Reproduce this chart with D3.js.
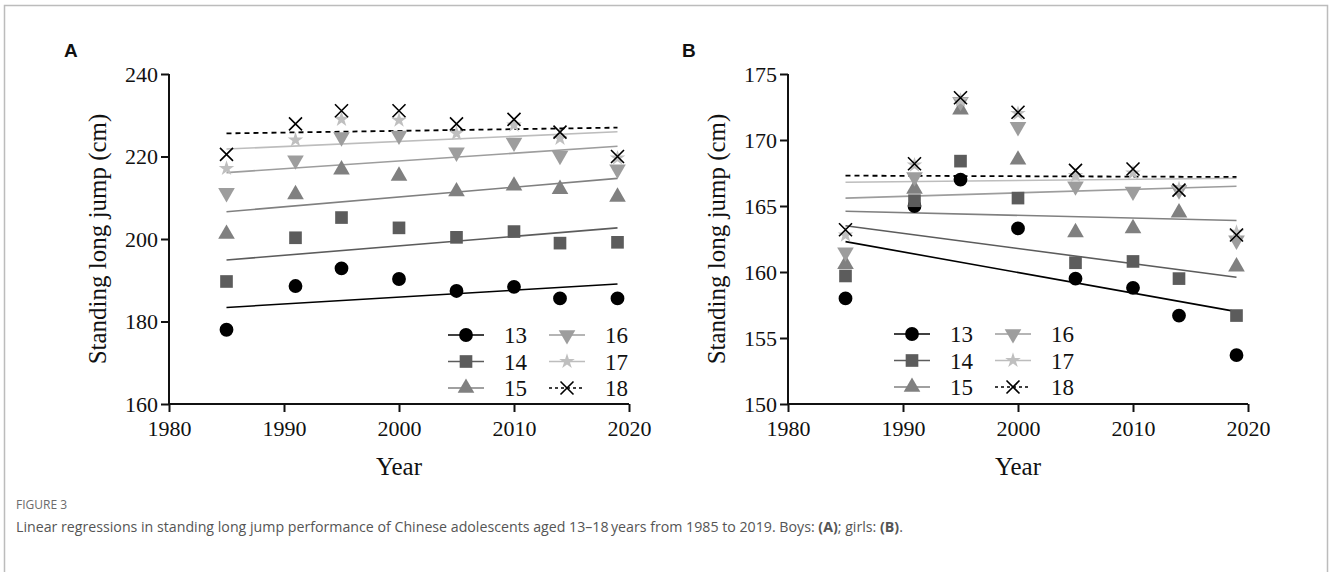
<!DOCTYPE html>
<html>
<head>
<meta charset="utf-8">
<script src="https://cdn.jsdelivr.net/npm/d3@7"></script>
<style>
  html, body { margin: 0; padding: 0; background: #fff; }
  svg { display: block; }
</style>
</head>
<body>
<svg id="fig" width="1330" height="572"></svg>
<script>
// Survey years
const years = [1985, 1991, 1995, 2000, 2005, 2010, 2014, 2019];
const ages = ["13", "14", "15", "16", "17", "18"];

// Boys, standing long jump (cm) by age
const boys13 = [178.0, 188.6, 192.9, 190.3, 187.4, 188.4, 185.6, 185.6];
const boys14 = [189.7, 200.3, 205.2, 202.7, 200.4, 201.8, 199.0, 199.2];
const boys15 = [201.2, 210.8, 216.8, 215.3, 211.5, 212.9, 212.1, 210.2];
const boys16 = [211.2, 219.1, 224.7, 225.1, 221.0, 223.4, 220.2, 216.9];
const boys17 = [217.1, 224.0, 229.0, 228.8, 225.6, 227.6, 224.4, 219.6];
const boys18 = [220.5, 227.9, 231.1, 231.1, 227.9, 229.0, 225.9, 220.0];

// Girls, standing long jump (cm) by age
const girls13 = [158.0, 165.0, 167.0, 163.3, 159.5, 158.8, 156.7, 153.7];
const girls14 = [159.7, 165.4, 168.4, 165.6, 160.7, 160.8, 159.5, 156.7];
const girls15 = [160.6, 166.3, 172.3, 168.5, 163.0, 163.3, 164.5, 160.4];
const girls16 = [161.5, 167.2, 172.9, 171.0, 166.5, 166.1, 166.2, 162.4];
const girls17 = [162.8, 168.1, 173.0, 172.0, 167.3, 167.5, 166.3, 163.0];
const girls18 = [163.2, 168.2, 173.2, 172.1, 167.7, 167.8, 166.2, 162.8];

// Fitted regression lines: value at first and last survey year
const fitYears = [1985, 2019];
const boysFitStart = [183.4, 194.9, 206.6, 216.1, 221.8, 225.6];
const boysFitEnd   = [189.1, 202.7, 214.7, 222.5, 226.0, 227.0];
const girlsFitStart = [162.3, 163.5, 164.6, 165.6, 166.8, 167.3];
const girlsFitEnd   = [157.0, 159.6, 163.9, 166.5, 167.1, 167.2];

// Axis ticks
const xTicks = [1980, 1990, 2000, 2010, 2020];
const boysTicks = [160, 180, 200, 220, 240];
const girlsTicks = [150, 155, 160, 165, 170, 175];

// Appearance per age group
const markerColor = ["#000000", "#5c5c5c", "#808080", "#9d9d9d", "#bfbfbf", "#000000"];
const lineColor   = ["#000000", "#5c5c5c", "#808080", "#9d9d9d", "#bdbdbd", "#000000"];
const markerType  = ["circle", "square", "triangle", "triangleDown", "star", "times"];

const svg = d3.select("#fig");

// Outer figure frame
svg.append("path")
  .attr("d", "M4.5,572 V5.5 H1327.5 V572")
  .attr("fill", "none")
  .attr("stroke", "#bcbcbc")
  .attr("stroke-width", 1.5);

function markerPath(type) {
  const sym = d3.symbol();
  switch (type) {
    case "circle": return sym.type(d3.symbolCircle).size(150)();
    case "square": return sym.type(d3.symbolSquare).size(160)();
    case "triangle":
    case "triangleDown": return sym.type(d3.symbolTriangle).size(120)();
    case "star": return sym.type(d3.symbolStar).size(75)();
    case "times": {
      const p = d3.path(), r = 6.5;
      p.moveTo(-r, -r); p.lineTo(r, r);
      p.moveTo(-r, r); p.lineTo(r, -r);
      return p.toString();
    }
  }
}

function drawMarker(g, type, color, x, y) {
  const el = g.append("path")
    .attr("d", markerPath(type))
    .attr("transform", `translate(${x},${y})` + (type === "triangleDown" ? " rotate(180)" : ""));
  if (type === "times") {
    el.attr("fill", "none").attr("stroke", color).attr("stroke-width", 1.6);
  } else {
    el.attr("fill", color);
  }
}

function panel(cfg) {
  const g = svg.append("g");
  const x = d3.scaleLinear().domain([1980, 2020]).range([cfg.x0, cfg.x0 + 460]);
  const y = d3.scaleLinear().domain(cfg.yDomain).range([404, 74]);

  // Axes
  const xAxis = g.append("g").attr("transform", "translate(0,404)")
    .call(d3.axisBottom(x).tickValues(xTicks).tickFormat(d3.format("d")).tickSize(8).tickPadding(8));
  const yAxis = g.append("g").attr("transform", `translate(${cfg.x0},0)`)
    .call(d3.axisLeft(y).tickValues(cfg.ticks).tickFormat(d3.format("d")).tickSize(8).tickPadding(3));
  [xAxis, yAxis].forEach(a => {
    a.select(".domain").attr("stroke", "#111").attr("stroke-width", 2);
    a.selectAll(".tick line").attr("stroke", "#111").attr("stroke-width", 2);
    a.selectAll(".tick text")
      .attr("fill", "#111")
      .style("font-family", "'Liberation Serif', 'Times New Roman', serif")
      .style("font-size", "22px");
  });
  xAxis.select(".domain").attr("d", `M${cfg.x0},0H${cfg.x0 + 460}`);
  yAxis.select(".domain").attr("d", `M0,404V74`);

  // Axis titles
  g.append("text")
    .attr("x", cfg.x0 + 230).attr("y", 475)
    .attr("text-anchor", "middle")
    .style("font-family", "'Liberation Serif', 'Times New Roman', serif")
    .style("font-size", "25px").attr("fill", "#111")
    .text("Year");
  g.append("text")
    .attr("transform", `translate(${cfg.x0 - 63},239) rotate(-90)`)
    .attr("text-anchor", "middle")
    .style("font-family", "'Liberation Serif', 'Times New Roman', serif")
    .style("font-size", "25px").attr("fill", "#111")
    .text("Standing long jump (cm)");

  // Panel letter
  g.append("text")
    .attr("x", cfg.letterX).attr("y", 57)
    .style("font-family", "'Liberation Sans', Arial, sans-serif")
    .style("font-weight", "bold")
    .style("font-size", "19px").attr("fill", "#111")
    .text(cfg.letter);

  // Regression lines
  const line = d3.line().x(d => x(d[0])).y(d => y(d[1]));
  cfg.series.forEach((s, i) => {
    g.append("path")
      .attr("d", line([[fitYears[0], cfg.fitStart[i]], [fitYears[1], cfg.fitEnd[i]]]))
      .attr("fill", "none")
      .attr("stroke", lineColor[i])
      .attr("stroke-width", i === 5 ? 1.8 : 1.6)
      .attr("stroke-dasharray", i === 5 ? "5,4" : null);
  });

  // Data points
  cfg.series.forEach((s, i) => {
    s.forEach((v, j) => drawMarker(g, markerType[i], markerColor[i], x(years[j]), y(v)));
  });

  // Legend
  ages.forEach((a, i) => {
    const col = Math.floor(i / 3), row = i % 3;
    const lx = cfg.legX + col * 101, ly = cfg.legY + row * 26.5;
    g.append("line")
      .attr("x1", lx).attr("x2", lx + 36)
      .attr("y1", ly).attr("y2", ly)
      .attr("stroke", lineColor[i])
      .attr("stroke-width", 1.6)
      .attr("stroke-dasharray", i === 5 ? "3,3" : null);
    drawMarker(g, markerType[i], markerColor[i], lx + 18, ly);
    g.append("text")
      .attr("x", lx + 56).attr("y", ly + 8)
      .style("font-family", "'Liberation Serif', 'Times New Roman', serif")
      .style("font-size", "23px").attr("fill", "#111")
      .text(a);
  });
}

panel({
  x0: 169, yDomain: [160, 240], ticks: boysTicks, letter: "A", letterX: 64,
  series: [boys13, boys14, boys15, boys16, boys17, boys18],
  fitStart: boysFitStart, fitEnd: boysFitEnd,
  legX: 448, legY: 335
});

panel({
  x0: 788, yDomain: [150, 175], ticks: girlsTicks, letter: "B", letterX: 682,
  series: [girls13, girls14, girls15, girls16, girls17, girls18],
  fitStart: girlsFitStart, fitEnd: girlsFitEnd,
  legX: 894, legY: 334
});

// Caption
svg.append("text")
  .attr("x", 16).attr("y", 509)
  .style("font-family", "'Open Sans', 'Noto Sans', sans-serif")
  .style("font-size", "12px").attr("fill", "#6b6b6b")
  .text("FIGURE 3");
const cap = svg.append("text")
  .attr("x", 16).attr("y", 532)
  .style("font-family", "'Open Sans', 'Noto Sans', sans-serif")
  .style("font-size", "14.2px").attr("fill", "#555");
cap.append("tspan").text("Linear regressions in standing long jump performance of Chinese adolescents aged 13\u201318\u2009years from 1985 to 2019. Boys: ");
cap.append("tspan").style("font-weight", "bold").text("(A)");
cap.append("tspan").text("; girls: ");
cap.append("tspan").style("font-weight", "bold").text("(B)");
cap.append("tspan").text(".");
</script>
</body>
</html>
